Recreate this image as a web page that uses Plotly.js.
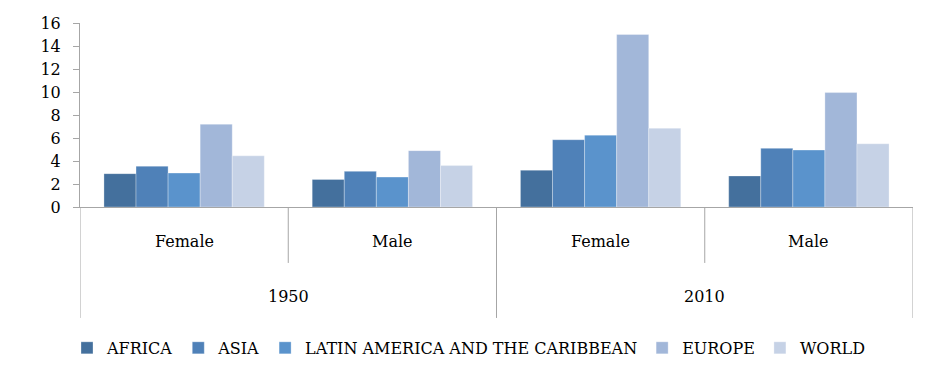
<!DOCTYPE html>
<html>
<head>
<meta charset="utf-8">
<script src="https://cdn.plot.ly/plotly-3.0.1.min.js"></script>
<style>html,body{margin:0;padding:0;background:#fff;}#chart{width:937px;height:379px;}</style>
</head>
<body>
<div id="chart"></div>
<script>
// Data
const years = ['1950', '1950', '2010', '2010'];
const sexes = ['Female', 'Male', 'Female', 'Male'];
const regions = ['AFRICA', 'ASIA', 'LATIN AMERICA AND THE CARIBBEAN', 'EUROPE', 'WORLD'];
const africa = [2.9, 2.4, 3.2, 2.7];
const asia = [3.55, 3.1, 5.85, 5.1];
const latam = [2.95, 2.6, 6.25, 4.95];
const europe = [7.2, 4.9, 15.0, 9.95];
const world = [4.45, 3.6, 6.85, 5.5];
const colors = ['#44709d', '#4f81b8', '#5a93cc', '#a2b7d9', '#c6d2e6'];

const seriesValues = [africa, asia, latam, europe, world];
const cats = years.map((y, i) => y + ' ' + sexes[i]);
const font = 'DejaVu Serif';

const traces = regions.map((name, k) => ({
  type: 'bar',
  name: name,
  x: cats,
  y: seriesValues[k],
  marker: {color: colors[k], line: {color: 'rgba(255,255,255,0.5)', width: 0.6}},
  hoverinfo: 'x+y+name'
}));

const gridColor = '#a6a6a6';
const innerDepth = -0.304;
const outerDepth = -0.603;
const shapes = [];
const annotations = [];
for (let i = 0; i <= cats.length; i++) {
  const isOuter = (i === 0 || i === cats.length || years[i] !== years[i - 1]);
  shapes.push({type: 'line', xref: 'x', yref: 'paper', x0: i - 0.5, x1: i - 0.5, y0: 0, y1: isOuter ? outerDepth : innerDepth,
    line: {color: gridColor, width: 1}});
}
sexes.forEach((s, i) => {
  annotations.push({xref: 'x', yref: 'paper', x: i, y: -0.185, text: s, showarrow: false,
    yanchor: 'middle', font: {family: font, size: 16, color: '#000'}});
});
const uniqYears = [...new Set(years)];
uniqYears.forEach(y => {
  const idx = years.map((v, i) => v === y ? i : -1).filter(i => i >= 0);
  const mid = (idx[0] + idx[idx.length - 1]) / 2;
  annotations.push({xref: 'x', yref: 'paper', x: mid, y: -0.489, text: y, showarrow: false,
    yanchor: 'middle', font: {family: font, size: 16, color: '#000'}});
});

const layout = {
  width: 937, height: 379,
  font: {family: font, color: '#000'},
  margin: {l: 80, r: 24, t: 23, b: 172},
  paper_bgcolor: '#fff', plot_bgcolor: '#fff',
  barmode: 'group', bargap: 0.23, bargroupgap: 0,
  showlegend: true,
  legend: {orientation: 'h', xref: 'container', yref: 'container', x: 0.5, xanchor: 'center', y: 0.082, yanchor: 'middle',
    font: {family: font, size: 16, color: '#000'}, itemwidth: 30, traceorder: 'normal'},
  xaxis: {type: 'category', showticklabels: false, ticks: '', showline: true, linecolor: gridColor, linewidth: 1,
    showgrid: false, zeroline: false, range: [-0.5, cats.length - 0.5]},
  yaxis: {range: [0, 16], dtick: 2, tick0: 0, showline: true, linecolor: gridColor, linewidth: 1, ticks: 'outside',
    ticklen: 6, tickcolor: gridColor, showgrid: false, zeroline: false, ticklabelstandoff: 9,
    tickfont: {family: font, size: 16, color: '#000'}},
  shapes: shapes,
  annotations: annotations
};

Plotly.newPlot('chart', traces, layout, {displayModeBar: false, staticPlot: true});
</script>
</body>
</html>
